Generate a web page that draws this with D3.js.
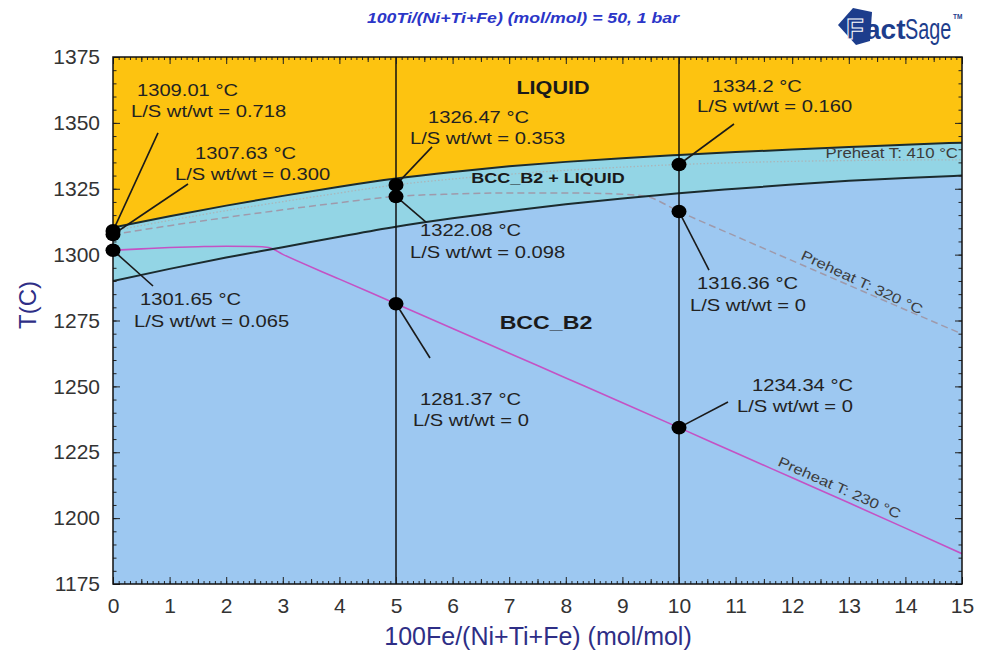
<!DOCTYPE html>
<html>
<head>
<meta charset="utf-8">
<script src="https://cdn.jsdelivr.net/npm/d3@7"></script>
<style>
  body { margin: 0; background: #fff; }
  text { font-family: "Liberation Sans", Arial, sans-serif; }
</style>
</head>
<body>
<svg id="grafico"></svg>
<script>
const WIDTH = 981,
    HEIGHT = 657;

const margin = {
    top: 57,
    bottom: 73,
    left: 113,
    right: 19
};

// --- datos ---
const feTicks = d3.range(0, 16, 1);
const tempTicks = d3.range(1175, 1376, 25);

const feGrid = [0, 1, 2, 3, 4, 5, 6, 7, 8, 9, 10, 11, 12, 13, 14, 15];
const liquidusT = [1310.3, 1314.6, 1318.6, 1322.3, 1325.8, 1328.9, 1331.4, 1333.5, 1335.2, 1336.6, 1337.8, 1338.9, 1339.9, 1340.8, 1341.7, 1342.5];
const solidusT = [1290.0, 1294.6, 1298.9, 1302.8, 1306.8, 1310.6, 1313.8, 1316.6, 1319.1, 1321.3, 1323.3, 1325.0, 1326.6, 1328.0, 1329.1, 1330.0];
const preheat410T = [1309.01, 1313.0, 1316.7, 1320.1, 1323.4, 1326.47, 1328.7, 1330.5, 1332.0, 1333.2, 1334.2, 1334.9, 1335.4, 1335.7, 1335.9, 1336.0];

const preheat320X = [0, 1, 2, 3, 4, 5, 6, 7, 8, 9, 9.4, 10, 11, 12, 13, 14, 15];
const preheat320T = [1307.63, 1311.0, 1314.1, 1317.0, 1319.7, 1322.08, 1323.0, 1323.4, 1323.4, 1322.9, 1322.2, 1316.36, 1307.0, 1297.7, 1288.4, 1279.1, 1269.9];

const preheat230X = [0, 0.5, 1, 1.5, 2, 2.5, 2.75, 3, 4, 5, 6, 7, 8, 9, 10, 11, 12, 13, 14, 15];
const preheat230T = [1301.65, 1302.2, 1302.7, 1303.0, 1303.2, 1303.1, 1302.7, 1300.1, 1290.7, 1281.37, 1272.0, 1262.6, 1253.2, 1243.8, 1234.34, 1224.8, 1215.3, 1205.8, 1196.2, 1186.5];

const cutFe = [5, 10];

const pointFe = [0, 0, 0, 5, 5, 5, 10, 10, 10];
const pointT = [1309.01, 1307.63, 1301.65, 1326.47, 1322.08, 1281.37, 1334.2, 1316.36, 1234.34];
const pointRatio = ["0.718", "0.300", "0.065", "0.353", "0.098", "0", "0.160", "0", "0"];

// posicion de cada etiqueta respecto a su punto (px)
const labelLayout = [
    {l1: [24, -135], l2: [18, -114], end: [45, -98]},
    {l1: [82, -75.5], l2: [62, -54.5], end: [75, -50.5]},
    {l1: [27, 54.7], l2: [21, 76.7], end: [40, 35.7]},
    {l1: [32, -62], l2: [14, -41], end: [36, -38]},
    {l1: [24, 39.6], l2: [14, 61.6], end: [30, 25.6]},
    {l1: [24, 101.3], l2: [17, 122.3], end: [34, 54.3]},
    {l1: [33, -72.5], l2: [18, -52.5], end: [55, -40.5]},
    {l1: [18, 77.5], l2: [11, 99.5], end: [30, 58.5]},
    {l1: [73, -36.6], l2: [58, -15.6], end: [49, -25.6]}
];

const svg = d3.select("#grafico")
    .attr("width", WIDTH)
    .attr("height", HEIGHT);

const escalaFe = d3.scaleLinear()
    .domain([0, 15])
    .range([margin.left, WIDTH - margin.right]);

const escalaT = d3.scaleLinear()
    .domain([1175, 1375])
    .range([HEIGHT - margin.bottom, margin.top]);

const x0 = escalaFe(0), x1 = escalaFe(15), yTop = escalaT(1375), yBot = escalaT(1175);

svg.append("clipPath")
    .attr("id", "clip-plot")
    .append("rect")
    .attr("x", x0).attr("y", yTop)
    .attr("width", x1 - x0).attr("height", yBot - yTop);

const plot = svg.append("g").attr("clip-path", "url(#clip-plot)");

// regiones
const area = (lo, hi) => d3.area()
    .x(i => escalaFe(feGrid[i]))
    .y0(i => escalaT(lo(i)))
    .y1(i => escalaT(hi(i)))
    .curve(d3.curveMonotoneX)(d3.range(feGrid.length));

plot.append("path").attr("d", area(() => 1175, i => solidusT[i])).attr("fill", "#9dc8f1");
plot.append("path").attr("d", area(i => solidusT[i], i => liquidusT[i])).attr("fill", "#93d5e5");
plot.append("path").attr("d", area(i => liquidusT[i], () => 1375)).attr("fill", "#fdc310");

const linea = (xs, ts) => d3.line()
    .x(i => escalaFe(xs[i]))
    .y(i => escalaT(ts[i]))
    .curve(d3.curveMonotoneX)(d3.range(xs.length));

plot.append("path").attr("d", linea(feGrid, preheat410T))
    .attr("fill", "none").attr("stroke", "#a9b6ba").attr("stroke-width", 1.3).attr("stroke-dasharray", "1.5,2");
plot.append("path").attr("d", linea(preheat320X, preheat320T))
    .attr("fill", "none").attr("stroke", "#9f9aab").attr("stroke-width", 1.5).attr("stroke-dasharray", "7,4");
plot.append("path").attr("d", linea(preheat230X, preheat230T))
    .attr("fill", "none").attr("stroke", "#c452c4").attr("stroke-width", 1.6);

plot.append("path").attr("d", linea(feGrid, liquidusT))
    .attr("fill", "none").attr("stroke", "#1b2b2e").attr("stroke-width", 2);
plot.append("path").attr("d", linea(feGrid, solidusT))
    .attr("fill", "none").attr("stroke", "#1b2b2e").attr("stroke-width", 2);

// lineas verticales
plot.selectAll(".corte")
    .data(cutFe)
    .join("line")
    .attr("x1", d => escalaFe(d)).attr("x2", d => escalaFe(d))
    .attr("y1", yTop).attr("y2", yBot)
    .attr("stroke", "#111").attr("stroke-width", 1.5);

// ejes con ticks hacia adentro
const ejes = svg.append("g").attr("class", "ejes");
const addAxis = (axis, tx, ty) => {
    const g = ejes.append("g").attr("transform", `translate(${tx},${ty})`).call(axis);
    g.select(".domain").remove();
    g.selectAll("line").attr("stroke", "#222");
    g.selectAll("text").attr("font-size", 21).attr("fill", "#333")
        .attr("font-family", "Liberation Sans, Arial, sans-serif");
    return g;
};

const feMinor = d3.range(0, 150).map(i => i / 10);
const feHalf = d3.range(0, 15).map(i => i + 0.5);
const tMinor = d3.range(1175, 1376, 5);

addAxis(d3.axisBottom(escalaFe).tickValues(feMinor).tickSize(-3).tickFormat(""), 0, yBot);
addAxis(d3.axisBottom(escalaFe).tickValues(feHalf).tickSize(-5).tickFormat(""), 0, yBot);
addAxis(d3.axisBottom(escalaFe).tickValues(feTicks).tickSize(-7).tickPadding(14).tickFormat(d3.format("d")), 0, yBot);
addAxis(d3.axisTop(escalaFe).tickValues(feMinor).tickSize(-3).tickFormat(""), 0, yTop);
addAxis(d3.axisTop(escalaFe).tickValues(feHalf).tickSize(-5).tickFormat(""), 0, yTop);
addAxis(d3.axisTop(escalaFe).tickValues(feTicks).tickSize(-7).tickFormat(""), 0, yTop);
addAxis(d3.axisLeft(escalaT).tickValues(tMinor).tickSize(-3.5).tickFormat(""), x0, 0);
addAxis(d3.axisLeft(escalaT).tickValues(tempTicks).tickSize(-7).tickPadding(13).tickFormat(d3.format("d")), x0, 0);
addAxis(d3.axisRight(escalaT).tickValues(tMinor).tickSize(-3.5).tickFormat(""), x1, 0);
addAxis(d3.axisRight(escalaT).tickValues(tempTicks).tickSize(-7).tickFormat(""), x1, 0);

svg.append("rect")
    .attr("x", x0).attr("y", yTop)
    .attr("width", x1 - x0).attr("height", yBot - yTop)
    .attr("fill", "none").attr("stroke", "#111").attr("stroke-width", 1.5);

// textos
const texto = (str, px, py, o = {}) => svg.append("text")
    .attr("transform", `translate(${px},${py}) rotate(${o.rot || 0}) scale(${o.sx || 1},1)`)
    .attr("text-anchor", o.anchor || "start")
    .attr("font-size", o.size || 16)
    .attr("font-weight", o.weight || "normal")
    .attr("font-style", o.style || "normal")
    .attr("fill", o.fill || "#222")
    .text(str);

texto("LIQUID", 553, 94, {anchor: "middle", size: 18, weight: "bold", sx: 1.2, fill: "#1a1a1a"});
texto("BCC_B2 + LIQUID", 548, 182.5, {anchor: "middle", size: 15, weight: "bold", sx: 1.2, fill: "#1a1a1a"});
texto("BCC_B2", 546, 329, {anchor: "middle", size: 19, weight: "bold", sx: 1.22, fill: "#1a1a1a"});

texto("Preheat T: 410 °C", escalaFe(15) - 4, escalaT(1336.6), {anchor: "end", size: 14, sx: 1.2, fill: "#3c3c3c"});
texto("Preheat T: 320 °C", escalaFe(13.2), escalaT(1286.3) - 4, {anchor: "middle", size: 14, sx: 1.2, rot: 25, fill: "#3c3c3c"});
texto("Preheat T: 230 °C", escalaFe(12.8), escalaT(1207.6) - 6, {anchor: "middle", size: 14, sx: 1.2, rot: 24, fill: "#3c3c3c"});

// puntos, lineas guia y etiquetas
pointFe.forEach((fe, i) => {
    const px = escalaFe(fe), py = escalaT(pointT[i]);
    const lay = labelLayout[i];
    svg.append("line")
        .attr("x1", px).attr("y1", py)
        .attr("x2", px + lay.end[0]).attr("y2", py + lay.end[1])
        .attr("stroke", "#1a1a1a").attr("stroke-width", 1.6);
    texto(`${pointT[i]} °C`, px + lay.l1[0], py + lay.l1[1], {size: 16, sx: 1.26});
    texto(`L/S wt/wt = ${pointRatio[i]}`, px + lay.l2[0], py + lay.l2[1], {size: 16, sx: 1.26});
});

svg.selectAll(".punto")
    .data(pointFe)
    .join("ellipse")
    .attr("cx", d => escalaFe(d))
    .attr("cy", (d, i) => escalaT(pointT[i]))
    .attr("rx", 7.5).attr("ry", 6.8)
    .attr("fill", "#000");

// titulos de ejes
texto("100Fe/(Ni+Ti+Fe) (mol/mol)", 538, 645, {anchor: "middle", size: 25, fill: "#2e2e86"});
svg.append("text")
    .attr("transform", `translate(36,305) rotate(-90)`)
    .attr("text-anchor", "middle")
    .attr("font-size", 24)
    .attr("fill", "#2e2e86")
    .text("T(C)");

texto("100Ti/(Ni+Ti+Fe) (mol/mol) = 50, 1 bar", 523, 23, {anchor: "middle", size: 14.5, weight: "bold", style: "italic", sx: 1.22, fill: "#2b36c8"});

// logo FactSage
const logo = svg.append("g");
logo.append("path")
    .attr("d", "M838,25 L853,8 L872,12 L870,41 L856,45 Z")
    .attr("fill", "#1d3d8c");
logo.append("text").attr("x", 846).attr("y", 39).attr("font-size", 29).attr("font-weight", "bold")
    .attr("fill", "#1d3d8c").attr("stroke", "#fff").attr("stroke-width", 1).text("F");
logo.append("text").attr("x", 865).attr("y", 39).attr("font-size", 28).attr("font-weight", "bold")
    .attr("fill", "#1d3d8c").text("act");
logo.append("text").attr("transform", "translate(905,39) scale(0.66,1)").attr("font-size", 30)
    .attr("fill", "#1d3d8c").text("Sage");
logo.append("text").attr("x", 953).attr("y", 19).attr("font-size", 6.5).attr("font-weight", "bold")
    .attr("fill", "#1d3d8c").text("TM");
</script>
</body>
</html>
